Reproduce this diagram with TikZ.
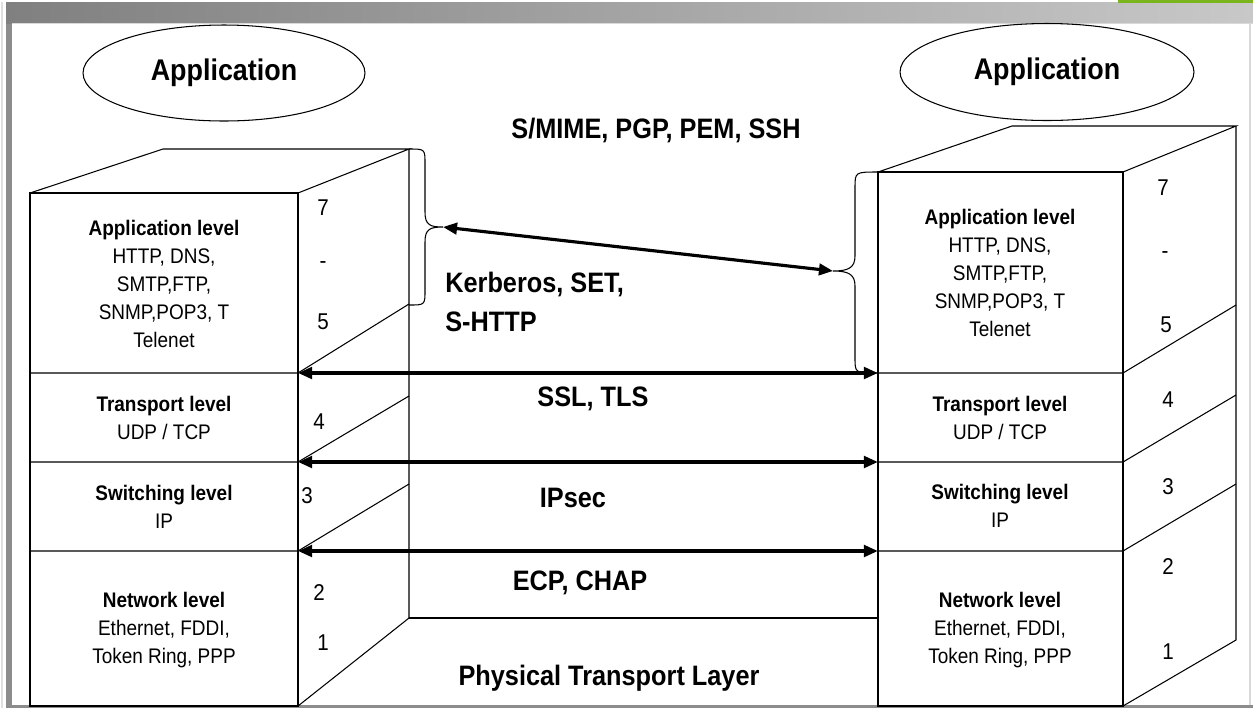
\documentclass[tikz,border=0pt]{standalone}
\usepackage{fontspec}
\setmainfont{Liberation Sans}[FakeStretch=0.9]
\usetikzlibrary{arrows.meta, shapes.geometric}

\definecolor{barDark}{HTML}{808080}
\definecolor{barLight}{HTML}{C8C8C8}
\definecolor{edgeGray}{HTML}{8C8C8C}
\definecolor{leafGreen}{HTML}{7AB51D}

\begin{document}
\begin{tikzpicture}
    [x=0.02cm, y=-0.02cm,
     edge/.style={line width=0.6pt},
     link/.style={line width=2.2pt, {Triangle[length=8pt,width=6.5pt]}-{Triangle[length=8pt,width=6.5pt]}},
     bubble/.style={ellipse, draw, line width=0.6pt, font=\fontsize{17}{20}\selectfont\bfseries},
     layertext/.style={align=center, inner sep=0pt, font=\fontsize{12}{15.9}\selectfont},
     num/.style={inner sep=0pt, font=\fontsize{13}{14}\selectfont},
     proto/.style={inner sep=0pt, font=\fontsize{16}{22}\selectfont\bfseries}]

    \useasboundingbox (0,0) rectangle (1253,708);
    \fill[white] (0,0) rectangle (1253,708);
    \fill[gray!25] (1,2) rectangle (3,708);
    \fill[edgeGray] (6,2) rectangle (12,708);
    \shade[left color=barDark, right color=barLight] (6,2) rectangle (1253,23);
    \fill[gray!30] (12,23) rectangle (1253,24);
    \fill[leafGreen] (1118,0) rectangle (1253,3);
    \fill[gray!30] (1249,24) rectangle (1251,705);
    \fill[edgeGray] (6,705) rectangle (1253,708);

    % left stack
    \draw[edge] (30,706) rectangle (298,193);
    \draw[edge] (30,193) -- (163,149) -- (409,149) coordinate (L-top) -- (298,193);
    \draw[edge] (409,149) -- (409,618) coordinate (L-foot) -- (298,706);
    \foreach \y/\t/\n in {373/304/a, 462/396/b, 551/484/c}
      \draw[edge] (30,\y) -- (298,\y) coordinate (L-\n) -- (409,\t);

    % right stack
    \draw[edge] (878,706) rectangle (1123,172);
    \draw[edge] (878,172) coordinate (R-top) -- (1012,126) -- (1236,126) -- (1123,172);
    \draw[edge] (1236,126) -- (1236,640) -- (1123,706);
    \foreach \y/\t/\n in {373/305/a, 462/395/b, 551/484/c}
      \draw[edge] (878,\y) coordinate (R-\n) -- (1123,\y) -- (1236,\t);

    \draw[edge] (L-foot) -- (878,618);

    \node[bubble, minimum width=5.64cm, minimum height=1.92cm] (app-left) at (224,73) {Application};
    \node[bubble, minimum width=5.88cm, minimum height=1.94cm] (app-right) at (1047,72) {Application};

    % braces
    \coordinate (L-tip) at (443,227);
    \coordinate (R-tip) at (833,271);
    \coordinate (L-end) at (409,305);
    \draw[edge] (L-top) .. controls (425,149) .. (425,164) -- (425,212)
      .. controls (425,225) and (430,227) .. (L-tip)
      .. controls (430,227) and (425,229) .. (425,242) -- (425,290)
      .. controls (425,305) .. (L-end);
    \draw[edge] (R-top) .. controls (855,172) .. (855,188) -- (855,256)
      .. controls (855,268) and (848,271) .. (R-tip)
      .. controls (848,271) and (855,274) .. (855,286) -- (855,358)
      .. controls (855,373) .. (R-a);

    \draw[link, line width=1.8pt] (L-tip) -- (R-tip);
    \foreach \n in {a,b,c}
      \draw[link] (L-\n) -- (R-\n);

    \node[layertext] (L-app) at (164,284) {\textbf{Application level}\\HTTP, DNS,\\SMTP,FTP,\\SNMP,POP3, T\\Telenet};
    \node[layertext] (L-trans) at (164,418) {\textbf{Transport level}\\UDP / TCP};
    \node[layertext] (L-switch) at (164,507) {\textbf{Switching level}\\IP};
    \node[layertext] (L-net) at (164,630) {\textbf{Network level}\\Ethernet, FDDI,\\Token Ring, PPP};
    \node[layertext] (R-app) at (1000,273) {\textbf{Application level}\\HTTP, DNS,\\SMTP,FTP,\\SNMP,POP3, T\\Telenet};
    \node[layertext] (R-trans) at (1000,418) {\textbf{Transport level}\\UDP / TCP};
    \node[layertext] (R-switch) at (1000,506) {\textbf{Switching level}\\IP};
    \node[layertext] (R-net) at (1000,630) {\textbf{Network level}\\Ethernet, FDDI,\\Token Ring, PPP};

    \foreach \x/\y/\t [count=\i] in {323/208/7, 323/265/-, 323/322/5, 319/422/4, 307/496/3, 319/593/2, 323/643/1}
      \node[num] (L-num\i) at (\x,\y) {\t};
    \foreach \x/\y/\t [count=\i] in {1163/188/7, 1165/255/-, 1166/325/5, 1168/400/4, 1168/487/3, 1168/567/2, 1168/652/1}
      \node[num] (R-num\i) at (\x,\y) {\t};

    \node[proto] (smime) at (656,130) {S/MIME, PGP, PEM, SSH};
    \node[proto, anchor=west, align=left] (kerberos) at (445,302) {Kerberos, SET,\\S-HTTP};
    \node[proto] (ssl) at (593,399) {SSL, TLS};
    \node[proto] (ipsec) at (573,498) {IPsec};
    \node[proto] (ecp) at (580,583) {ECP, CHAP};
    \node[proto] (phys) at (609,678) {Physical Transport Layer};
  \end{tikzpicture}
\end{document}
